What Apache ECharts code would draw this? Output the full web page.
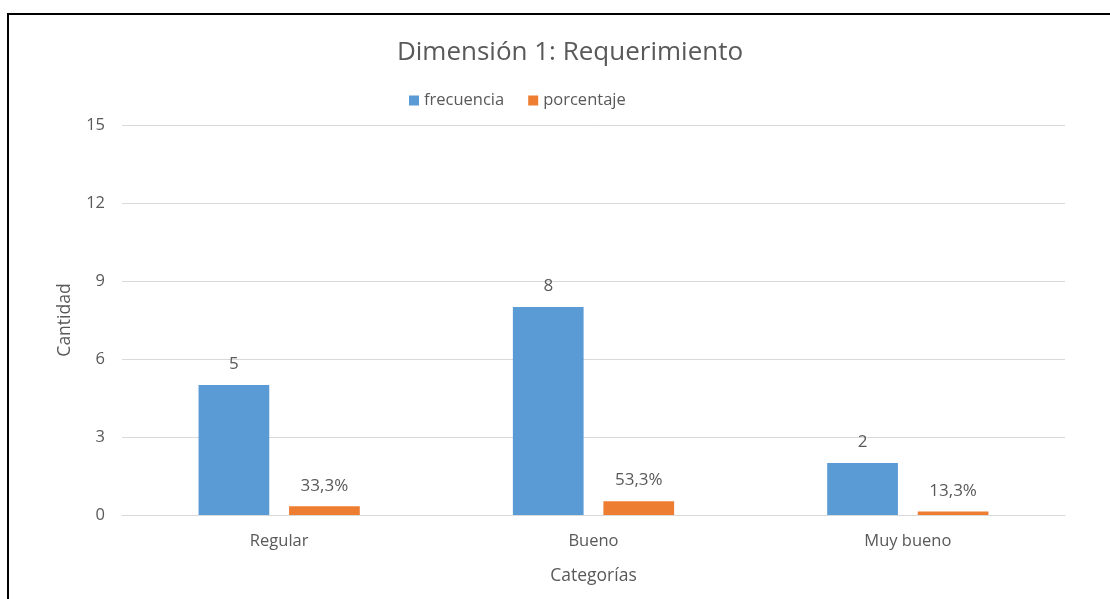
<!DOCTYPE html>
<html>
<head>
<meta charset="utf-8">
<script src="https://cdn.jsdelivr.net/npm/echarts@6/dist/echarts.min.js"></script>
<style>
  html, body { margin: 0; padding: 0; background: #fff; }
  #chart { width: 1110px; height: 599px; }
</style>
</head>
<body>
<div id="chart"></div>
<script>
// datos del gráfico
const categorias = ["Regular", "Bueno", "Muy bueno"];
const frecuencia = [5, 8, 2];
const porcentaje = [0.333, 0.533, 0.133];
const yTicks = [0, 3, 6, 9, 12, 15];

const chart = echarts.init(document.getElementById("chart"));
const fontFam = "'Open Sans', 'Liberation Sans', sans-serif";
const gris = "#595959";

const option = {
  backgroundColor: "#fff",
  textStyle: { fontFamily: fontFam },
  title: {
    text: "Dimensión 1: Requerimiento",
    top: 35,
    left: 565,
    textAlign: "center",
    textStyle: { fontSize: 26, fontWeight: "normal", color: gris, fontFamily: fontFam }
  },
  legend: {
    top: 87,
    left: 404,
    itemWidth: 10,
    itemHeight: 10,
    itemGap: 24,
    icon: "rect",
    textStyle: { fontSize: 16.5, color: gris, fontFamily: fontFam }
  },
  grid: { left: 122, right: 45, top: 125, bottom: 84 },
  xAxis: {
    type: "category",
    data: categorias,
    name: "Categorías",
    nameLocation: "middle",
    nameGap: 52,
    nameTextStyle: { fontSize: 17.5, color: gris },
    axisLine: { lineStyle: { color: "#d9d9d9", width: 1 } },
    axisTick: { show: false },
    axisLabel: { fontSize: 16.5, color: gris, margin: 18 }
  },
  yAxis: {
    type: "value",
    min: yTicks[0],
    max: yTicks[yTicks.length - 1],
    interval: 3,
    name: "Cantidad",
    nameLocation: "middle",
    nameGap: 48,
    nameRotate: 90,
    nameTextStyle: { fontSize: 17.5, color: gris },
    axisLine: { show: false },
    axisTick: { show: false },
    axisLabel: { fontSize: 16.5, color: gris, margin: 17 }
  ,
    splitLine: { lineStyle: { color: "#d9d9d9", width: 1 } }
  },
  series: [
    {
      name: "frecuencia",
      type: "bar",
      data: frecuencia,
      barWidth: "22.5%",
      barGap: "28%",
      itemStyle: { color: "#5b9bd5" },
      label: { show: true, position: "top", distance: 12, fontSize: 17, color: gris }
    },
    {
      name: "porcentaje",
      type: "bar",
      data: porcentaje,
      barWidth: "22.5%",
      itemStyle: { color: "#ed7d31" },
      label: {
        show: true,
        position: "top",
        distance: 12,
        fontSize: 17,
        color: gris,
        formatter: p => (p.value * 100).toFixed(1).replace(".", ",") + "%"
      }
    }
  ],
  graphic: [
    { type: "line", shape: { x1: 8, y1: 13, x2: 8, y2: 599 }, style: { stroke: "#000", lineWidth: 2 } },
    { type: "line", shape: { x1: 7, y1: 14, x2: 1110, y2: 14 }, style: { stroke: "#000", lineWidth: 2 } }
  ]
};

chart.setOption(option);
</script>
</body>
</html>
